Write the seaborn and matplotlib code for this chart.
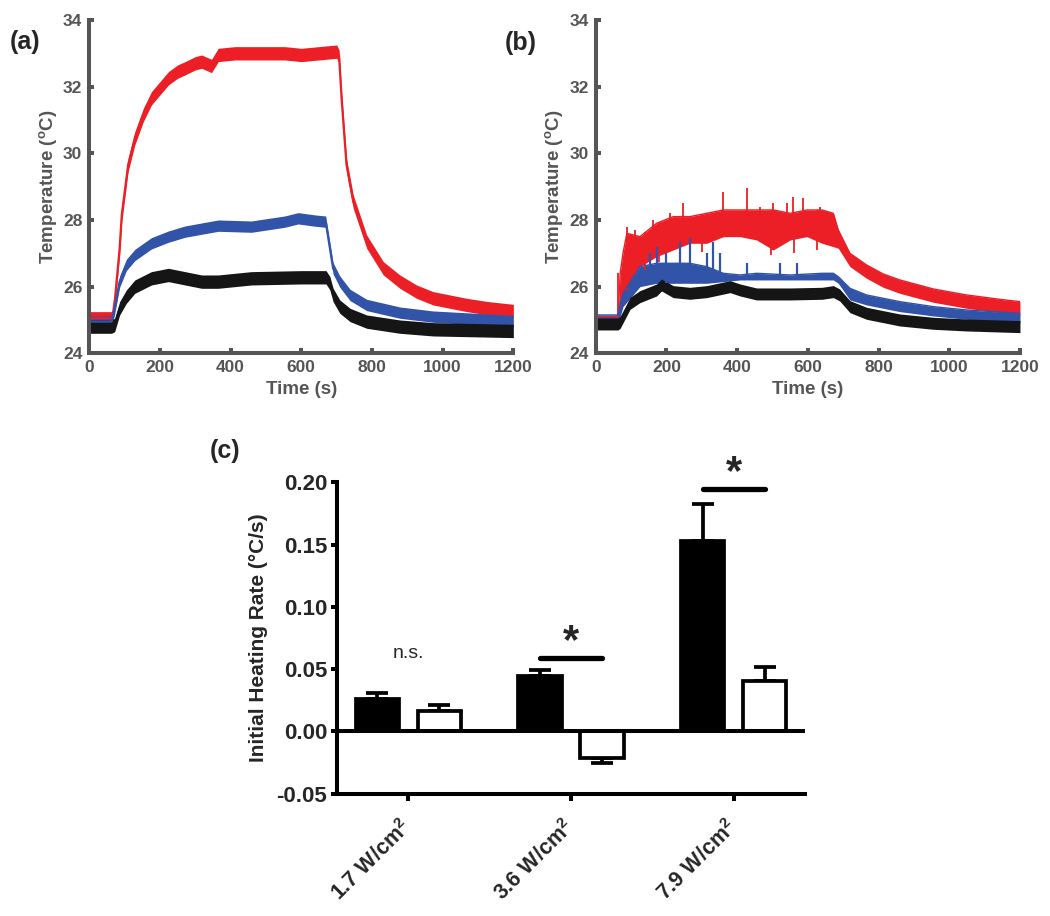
import numpy as np
import pandas as pd
import matplotlib
matplotlib.use("Agg")
import matplotlib.pyplot as plt
import seaborn as sns

# ---------------- data: panel (a) ----------------
red_a_t = [0, 63, 66, 73, 86, 92, 110, 129, 153, 176, 200, 224, 250, 271, 300, 318, 346, 365, 412,
           460, 500, 553, 600, 650, 700, 707, 714, 728, 747, 766, 785, 832, 879, 926, 973, 1068, 1130, 1200]
red_a_T = [25.05, 25.05, 25.1, 25.65, 27.15, 28.15, 29.65, 30.45, 31.15, 31.65, 31.95, 32.25, 32.45, 32.55,
           32.7, 32.75, 32.62, 32.95, 33.0, 33.0, 33.0, 33.0, 32.95, 33.0, 33.05, 32.9, 31.65, 29.65, 28.55,
           27.95, 27.35, 26.55, 26.15, 25.85, 25.65, 25.45, 25.35, 25.27]

blue_a_t = [0, 63, 72, 86, 105, 129, 176, 224, 271, 365, 459, 553, 591, 640, 669, 681, 690, 709, 738,
            785, 879, 973, 1200]
blue_a_T = [24.95, 24.95, 25.35, 26.15, 26.65, 26.95, 27.3, 27.5, 27.65, 27.83, 27.8, 27.95, 28.05, 27.98,
            27.95, 27.15, 26.55, 26.15, 25.75, 25.45, 25.22, 25.1, 24.97]

black_a_t = [0, 63, 72, 86, 105, 129, 176, 224, 271, 318, 365, 459, 600, 670, 681, 690, 709, 738, 785,
             879, 973, 1200]
black_a_T = [24.8, 24.8, 24.85, 25.35, 25.7, 26.0, 26.25, 26.35, 26.25, 26.15, 26.15, 26.25, 26.28, 26.28,
             26.1, 25.75, 25.4, 25.15, 24.95, 24.8, 24.72, 24.67]

# ---------------- data: panel (b) ----------------
red_b_t = [0, 63, 69, 77, 88, 125, 172, 219, 266, 314, 361, 408, 455, 502, 550, 597, 640, 672, 686,
           719, 766, 813, 860, 955, 1049, 1143, 1200]
red_b_lo = [25.05, 25.05, 25.3, 25.6, 25.9, 26.6, 26.9, 27.1, 27.3, 27.3, 27.5, 27.5, 27.4, 27.1, 27.4,
            27.5, 27.3, 27.2, 27.15, 26.6, 26.25, 25.98, 25.8, 25.53, 25.35, 25.22, 25.15]
red_b_hi = [25.1, 25.1, 26.4, 27.0, 27.6, 27.5, 27.9, 28.1, 28.1, 28.2, 28.3, 28.3, 28.3, 28.3, 28.2,
            28.3, 28.3, 28.2, 27.7, 27.0, 26.65, 26.38, 26.2, 25.93, 25.75, 25.62, 25.55]
red_b_spike_t = [64, 87, 110, 163, 210, 248, 276, 314, 361, 427, 464, 502, 540, 559, 587, 634, 653]
red_b_spike_T = [26.4, 27.8, 27.7, 28.0, 28.2, 28.5, 28.1, 28.2, 28.85, 28.95, 28.4, 28.5, 28.5, 28.7,
                 28.65, 28.4, 28.25]
red_b_dip_t = [140, 180, 300, 497, 560, 625]
red_b_dip_T = [26.5, 26.75, 27.05, 26.95, 27.0, 27.1]

blue_b_t = [0, 63, 69, 77, 125, 172, 219, 266, 314, 361, 408, 455, 550, 640, 672, 686, 719, 766, 860,
            955, 1049, 1200]
blue_b_lo = [25.0, 25.0, 25.1, 25.4, 26.0, 26.1, 26.1, 26.1, 26.1, 26.15, 26.2, 26.2, 26.2, 26.2, 26.2,
             26.1, 25.6, 25.45, 25.25, 25.12, 25.02, 24.92]
blue_b_hi = [25.15, 25.15, 25.5, 25.8, 26.6, 26.7, 26.7, 26.7, 26.6, 26.4, 26.35, 26.4, 26.35, 26.4, 26.4,
             26.3, 25.95, 25.75, 25.55, 25.4, 25.3, 25.2]
blue_b_spike_t = [153, 172, 200, 238, 266, 314, 332, 351, 427, 521, 568, 662]
blue_b_spike_T = [27.0, 27.2, 27.0, 27.35, 27.45, 27.0, 27.35, 27.0, 26.7, 26.7, 26.7, 26.4]

black_b_t = [0, 63, 69, 97, 125, 172, 186, 219, 266, 314, 380, 408, 455, 550, 640, 672, 690, 719, 766,
             860, 955, 1049, 1200]
black_b_T = [24.88, 24.88, 24.93, 25.5, 25.7, 25.9, 26.05, 25.85, 25.8, 25.85, 26.0, 25.9, 25.78, 25.78,
             25.8, 25.85, 25.75, 25.4, 25.2, 25.0, 24.9, 24.85, 24.8]

# ---------------- data: panel (c) ----------------
categories = ["1.7 W/cm$^{\\mathbf{2}}$", "3.6 W/cm$^{\\mathbf{2}}$", "7.9 W/cm$^{\\mathbf{2}}$"]
groups = ["Filled", "Open"]
filled_vals = [0.026, 0.044, 0.153]
filled_err = [0.0049, 0.0054, 0.0295]
open_vals = [0.016, -0.0215, 0.0403]
open_err = [0.005, 0.004, 0.0112]
y_ticks_c = [-0.05, 0.00, 0.05, 0.10, 0.15, 0.20]

# ---------------- style ----------------
sns.set_theme(style="white")
plt.rcParams["font.family"] = ["Liberation Sans", "DejaVu Sans"]
plt.rcParams["mathtext.fontset"] = "custom"
plt.rcParams["mathtext.rm"] = "Liberation Sans"
plt.rcParams["mathtext.bf"] = "Liberation Sans:bold"
plt.rcParams["mathtext.it"] = "Liberation Sans:italic"

RED = "#ec1f26"
BLUE = "#3153a8"
BLACK = "#151515"
GREY = "#555555"

fig = plt.figure(figsize=(10.5, 9.16), dpi=100)
ax_a = fig.add_axes([0.0850, 0.6143, 0.4039, 0.3639])
ax_b = fig.add_axes([0.5674, 0.6143, 0.4040, 0.3639])
ax_c = fig.add_axes([0.3210, 0.1337, 0.4457, 0.3398])


def style_temp(ax):
    ax.set_xlim(0, 1200)
    ax.set_ylim(24, 34)
    ax.set_xticks(range(0, 1201, 200))
    ax.set_yticks(range(24, 35, 2))
    for s in ["top", "right"]:
        ax.spines[s].set_visible(False)
    for s in ["left", "bottom"]:
        ax.spines[s].set_color(GREY)
        ax.spines[s].set_linewidth(2.9)
    ax.tick_params(direction="in", length=3.5, width=2.9, color=GREY, labelcolor=GREY,
                   labelsize=12.5, pad=5, left=True, bottom=True)
    for lab in ax.get_xticklabels() + ax.get_yticklabels():
        lab.set_fontweight("bold")
    ax.set_xlabel("Time (s)", fontsize=13.5, fontweight="bold", color=GREY, labelpad=4)
    ax.set_ylabel("Temperature ($^{\\mathbf{o}}$C)", fontsize=13.5, fontweight="bold",
                  color=GREY, labelpad=3)


def band(ax, t, T, hw, color):
    t = np.asarray(t, float)
    T = np.asarray(T, float)
    ax.fill_between(t, T - hw, T + hw, color=color, lw=0)
    sns.lineplot(x=t, y=T, ax=ax, color=color, lw=1.6)


# panel (a)
band(ax_a, red_a_t, red_a_T, 0.2, RED)
band(ax_a, blue_a_t, blue_a_T, 0.17, BLUE)
band(ax_a, black_a_t, black_a_T, 0.2, BLACK)
style_temp(ax_a)

# panel (b)
ax_b.fill_between(red_b_t, red_b_lo, red_b_hi, color=RED, lw=0)
sns.lineplot(x=red_b_t, y=red_b_hi, ax=ax_b, color=RED, lw=1.0)
ax_b.vlines(red_b_spike_t, np.interp(red_b_spike_t, red_b_t, red_b_lo), red_b_spike_T,
            color=RED, lw=1.3)
ax_b.vlines(red_b_dip_t, red_b_dip_T, np.interp(red_b_dip_t, red_b_t, red_b_hi),
            color=RED, lw=1.3)
ax_b.fill_between(blue_b_t, blue_b_lo, blue_b_hi, color=BLUE, lw=0)
sns.lineplot(x=blue_b_t, y=blue_b_hi, ax=ax_b, color=BLUE, lw=1.0)
ax_b.vlines(blue_b_spike_t, np.interp(blue_b_spike_t, blue_b_t, blue_b_lo), blue_b_spike_T,
            color=BLUE, lw=1.6)
band(ax_b, black_b_t, black_b_T, 0.18, BLACK)
style_temp(ax_b)

# panel (c)
df = pd.DataFrame({
    "power": categories * 2,
    "rate": filled_vals + open_vals,
    "group": [groups[0]] * 3 + [groups[1]] * 3,
})
sns.barplot(data=df, x="power", y="rate", hue="group", order=categories, hue_order=groups,
            palette={groups[0]: "black", groups[1]: "white"}, edgecolor="black", linewidth=2.7,
            width=0.76, gap=0.3, errorbar=None, legend=False, ax=ax_c, zorder=3)

centers = {}
for p in ax_c.patches:
    h = p.get_height()
    x = p.get_x() + p.get_width() / 2
    for gname, vals, errs in ((groups[0], filled_vals, filled_err), (groups[1], open_vals, open_err)):
        for i, (v, e) in enumerate(zip(vals, errs)):
            if np.isclose(h, v):
                centers[(gname, i)] = x
                yerr = [[e], [0]] if v < 0 else [[0], [e]]
                ax_c.errorbar(x, v, yerr=yerr, color="black", elinewidth=2.7, capsize=8,
                              capthick=2.7, zorder=2)

ax_c.axhline(0, color="black", lw=2.9, zorder=5)
ax_c.set_xlim(-0.438, 2.438)
ax_c.set_ylim(-0.05, 0.20)
ax_c.set_yticks(y_ticks_c)
ax_c.set_yticklabels([f"{v:.2f}" for v in y_ticks_c], fontsize=16, fontweight="bold")
for s in ["top", "right"]:
    ax_c.spines[s].set_visible(False)
for s in ["left", "bottom"]:
    ax_c.spines[s].set_color("black")
    ax_c.spines[s].set_linewidth(2.9)
ax_c.tick_params(axis="y", direction="out", length=4, width=2.9, color="black", pad=3, left=True)
ax_c.tick_params(axis="x", direction="out", length=5, width=2.9, color="black", pad=17, bottom=True)
ax_c.set_xticks(range(len(categories)))
ax_c.set_xticklabels(categories, rotation=45, ha="right", va="center", rotation_mode="anchor",
                     fontsize=15.5, fontweight="bold")
ax_c.set_xlabel("")
ax_c.set_ylabel("Initial Heating Rate (\u00b0C/s)", fontsize=15, fontweight="bold", labelpad=6)

# significance annotations
sig_levels = [0.059, 0.1942]
for k, i in enumerate([1, 2]):
    x0, x1 = centers[(groups[0], i)], centers[(groups[1], i)]
    ax_c.plot([x0, x1], [sig_levels[k]] * 2, color="black", lw=3.8, solid_capstyle="round", zorder=6)
    ax_c.text((x0 + x1) / 2, sig_levels[k] + 0.004, "*", fontsize=30, fontweight="bold",
              ha="center", va="baseline", zorder=6)
ax_c.text(0, 0.059, "n.s.", fontsize=14, ha="center", va="baseline")

# panel letters
fig.text(25 / 1050, 1 - 42 / 916, "(a)", fontsize=18, fontweight="bold", ha="center", va="center")
fig.text(521 / 1050, 1 - 43 / 916, "(b)", fontsize=18, fontweight="bold", ha="center", va="center")
fig.text(225 / 1050, 1 - 451 / 916, "(c)", fontsize=18, fontweight="bold", ha="center", va="center")

fig.savefig("out.png", dpi=100)
